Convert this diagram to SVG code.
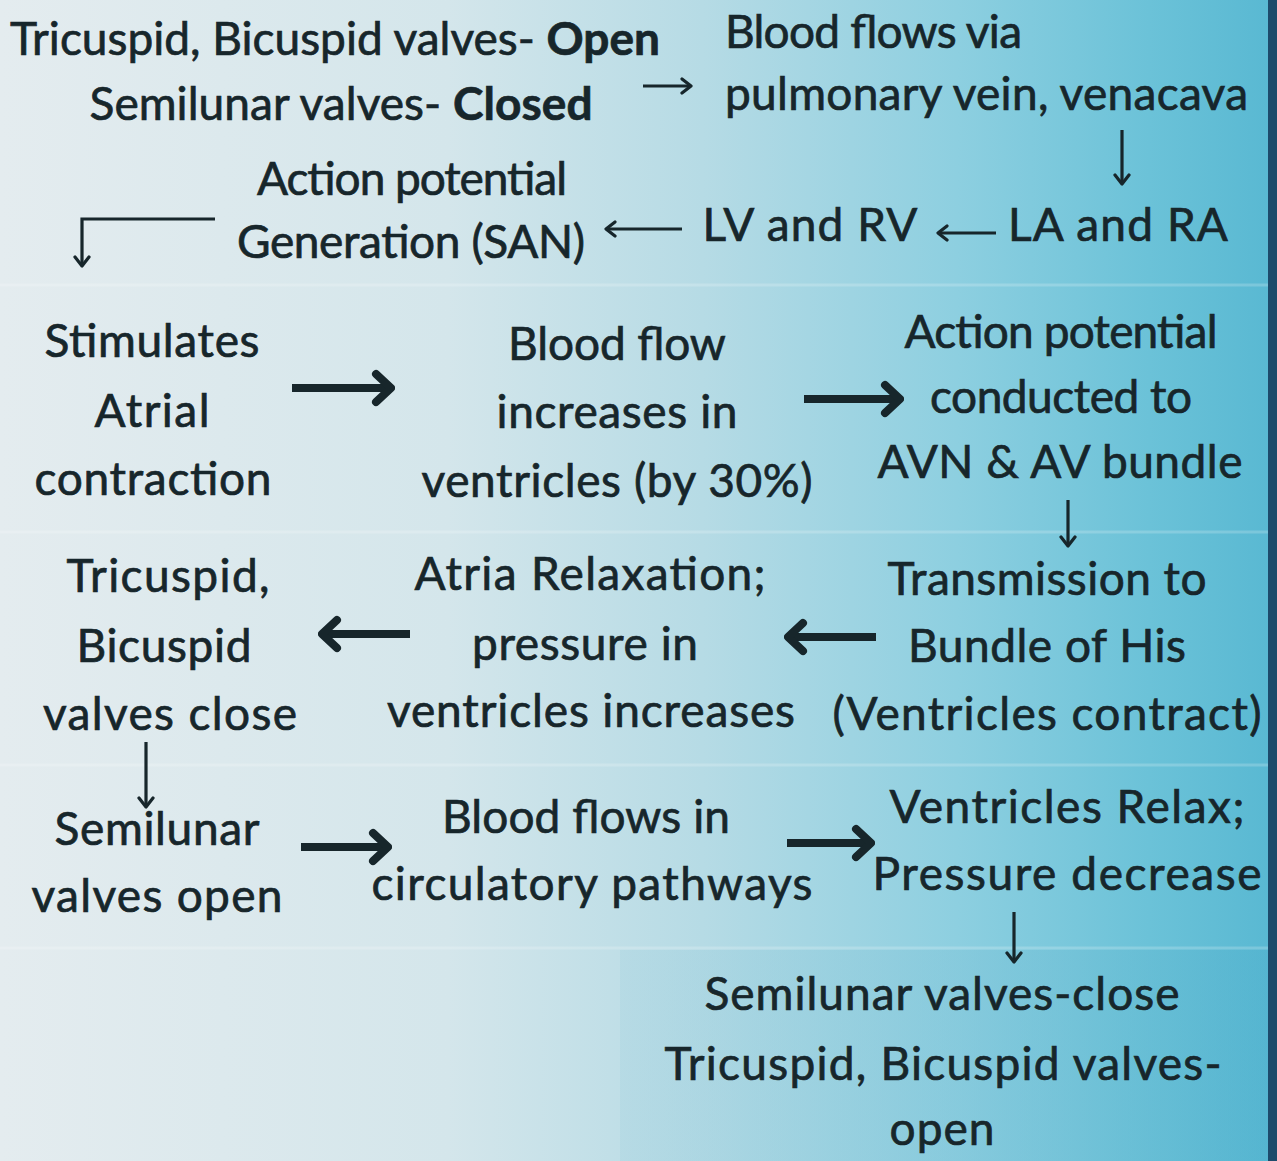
<svg xmlns="http://www.w3.org/2000/svg" width="1277" height="1161" viewBox="0 0 1277 1161">
<defs>
<linearGradient id="bg" x1="0" y1="0" x2="1" y2="0">
<stop offset="0" stop-color="#e4ecef"/>
<stop offset="0.35" stop-color="#d4e6eb"/>
<stop offset="0.55" stop-color="#b6dbe5"/>
<stop offset="0.75" stop-color="#8dcfe0"/>
<stop offset="0.9" stop-color="#6bc2d8"/>
<stop offset="1" stop-color="#58b8d2"/>
</linearGradient>
<linearGradient id="box" x1="0" y1="0" x2="1" y2="0">
<stop offset="0" stop-color="#a9d4e1"/>
<stop offset="0.5" stop-color="#7fc4d8"/>
<stop offset="1" stop-color="#4eb0cd"/>
</linearGradient>
<marker id="thin" viewBox="-12 -10 14 20" refX="0" refY="0" markerWidth="14" markerHeight="20" markerUnits="userSpaceOnUse" orient="auto">
<path d="M-9,-7 L0,0 L-9,7" fill="none" stroke="#17262b" stroke-width="3.2" stroke-linecap="round" stroke-linejoin="round"/>
</marker>
<marker id="thick" viewBox="-24 -20 28 40" refX="0" refY="0" markerWidth="28" markerHeight="40" markerUnits="userSpaceOnUse" orient="auto">
<path d="M-15,-14 L0,0 L-15,14" fill="none" stroke="#17262b" stroke-width="8" stroke-linecap="round" stroke-linejoin="round"/>
</marker>
</defs>
<style>
.t{font-family:Lato,"Liberation Sans",sans-serif;font-size:46px;fill:#17262b;stroke:#17262b;stroke-width:0.7px;text-anchor:middle}
.s{text-anchor:start}
.b{font-weight:bold}
.thin{fill:none;stroke:#17262b;stroke-width:3.2;marker-end:url(#thin)}
.thick{fill:none;stroke:#17262b;stroke-width:8;marker-end:url(#thick)}
.band{stroke:#ffffff;stroke-opacity:0.2;stroke-width:3}
</style>
<rect x="0" y="0" width="1277" height="1161" fill="url(#bg)"/>
<rect x="620" y="950" width="650" height="211" fill="url(#box)" opacity="0.4"/>
<line class="band" x1="0" y1="285" x2="1268" y2="285"/>
<line class="band" x1="0" y1="532" x2="1268" y2="532"/>
<line class="band" x1="0" y1="765" x2="1268" y2="765"/>
<line class="band" x1="0" y1="948" x2="1268" y2="948"/>
<rect x="1268" y="0" width="9" height="1161" fill="#1d4b6b"/>

<g id="n1"><text class="t" x="335" y="55" textLength="650">Tricuspid, Bicuspid valves- <tspan class="b">Open</tspan></text>
<text class="t" x="341" y="120" textLength="503">Semilunar valves- <tspan class="b">Closed</tspan></text></g>
<g id="n2"><text class="t s" x="725" y="48" textLength="297">Blood flows via</text>
<text class="t s" x="725" y="110" textLength="523">pulmonary vein, venacava</text></g>
<g id="n3"><text class="t" x="1118" y="241" textLength="220">LA and RA</text></g>
<g id="n4"><text class="t" x="810" y="241" textLength="215">LV and RV</text></g>
<g id="n5"><text class="t" x="412" y="195" textLength="310">Action potential</text>
<text class="t" x="411" y="258" textLength="348">Generation (SAN)</text></g>
<g id="n6"><text class="t" x="152" y="357" textLength="215">Stimulates</text>
<text class="t" x="152" y="427" textLength="115">Atrial</text>
<text class="t" x="153" y="495" textLength="237">contraction</text></g>
<g id="n7"><text class="t" x="617" y="360" textLength="218">Blood flow</text>
<text class="t" x="617" y="428" textLength="241">increases in</text>
<text class="t" x="617" y="497" textLength="391">ventricles (by 30%)</text></g>
<g id="n8"><text class="t" x="1061" y="348" textLength="313">Action potential</text>
<text class="t" x="1061" y="413" textLength="262">conducted to</text>
<text class="t" x="1060" y="478" textLength="365">AVN &amp; AV bundle</text></g>
<g id="n9"><text class="t" x="1047" y="595" textLength="319">Transmission to</text>
<text class="t" x="1047" y="662" textLength="278">Bundle of His</text>
<text class="t" x="1047" y="730" textLength="429">(Ventricles contract)</text></g>
<g id="n10"><text class="t" x="590" y="590" textLength="351">Atria Relaxation;</text>
<text class="t" x="585" y="660" textLength="226">pressure in</text>
<text class="t" x="591" y="727" textLength="408">ventricles increases</text></g>
<g id="n11"><text class="t" x="168" y="592" textLength="203">Tricuspid,</text>
<text class="t" x="164" y="662" textLength="175">Bicuspid</text>
<text class="t" x="170" y="730" textLength="254">valves close</text></g>
<g id="n12"><text class="t" x="157" y="845" textLength="205">Semilunar</text>
<text class="t" x="157" y="912" textLength="251">valves open</text></g>
<g id="n13"><text class="t" x="586" y="833" textLength="288">Blood flows in</text>
<text class="t" x="592" y="900" textLength="441">circulatory pathways</text></g>
<g id="n14"><text class="t" x="1067" y="823" textLength="355">Ventricles Relax;</text>
<text class="t" x="1067" y="890" textLength="389">Pressure decrease</text></g>
<g id="n15"><text class="t" x="942" y="1010" textLength="475">Semilunar valves-close</text>
<text class="t" x="943" y="1080" textLength="557">Tricuspid, Bicuspid valves-</text>
<text class="t" x="942" y="1145" textLength="105">open</text></g>

<g id="connectors">
<path class="thin" d="M643,86 L691,86"/>
<path class="thin" d="M1122,130 L1122,184"/>
<path class="thin" d="M996,233 L938,233"/>
<path class="thin" d="M682,229 L606,229"/>
<path class="thin" d="M215,219 L82,219 L82,266"/>
<path class="thick" d="M292,388 L391,388"/>
<path class="thick" d="M804,399 L900,399"/>
<path class="thin" d="M1068,500 L1068,546"/>
<path class="thick" d="M876,637 L788,637"/>
<path class="thick" d="M410,634 L322,634"/>
<path class="thin" d="M146,742 L146,807"/>
<path class="thick" d="M301,847 L388,847"/>
<path class="thick" d="M787,843 L871,843"/>
<path class="thin" d="M1014,912 L1014,962"/>
</g>
</svg>
